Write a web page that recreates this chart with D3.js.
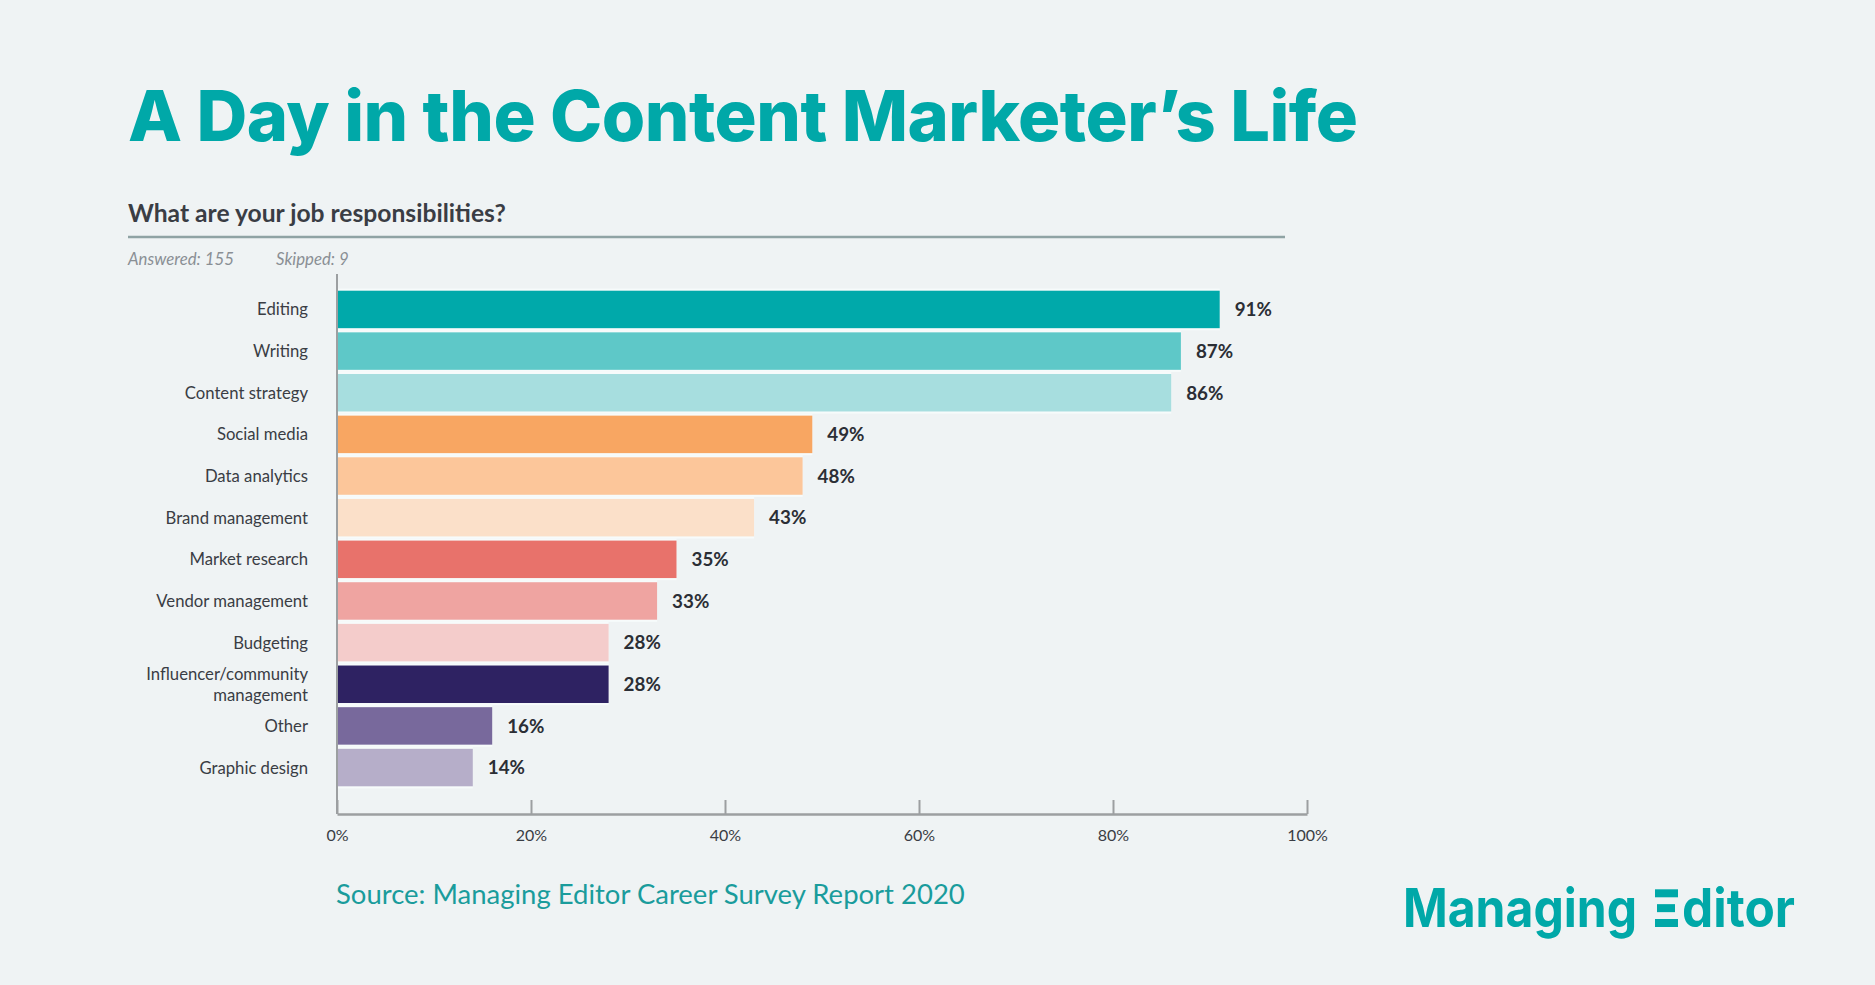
<!DOCTYPE html>
<html>
<head>
<meta charset="utf-8">
<script src="https://cdn.jsdelivr.net/npm/d3@7"></script>
<style>
  html, body { margin: 0; padding: 0; background: #eff3f4; }
  svg { display: block; }
</style>
</head>
<body>
<svg id="chart" width="1875" height="985"></svg>
<script>
// ---- data ----
const categories = ["Editing", "Writing", "Content strategy", "Social media", "Data analytics",
  "Brand management", "Market research", "Vendor management", "Budgeting",
  "Influencer/community management", "Other", "Graphic design"];
const values = [91, 87, 86, 49, 48, 43, 35, 33, 28, 28, 16, 14];
const barColors = ["#00a9aa", "#5ec8c8", "#a7dedf", "#f8a662", "#fcc69a", "#fbe0c9",
  "#e8726b", "#efa4a1", "#f4cccb", "#2e2262", "#78699c", "#b6aec9"];
const tickValues = [0, 20, 40, 60, 80, 100];
const tickLabels = ["0%", "20%", "40%", "60%", "80%", "100%"];
const titleText = "A Day in the Content Marketer\u2019s Life";
const questionText = "What are your job responsibilities?";
const answeredText = "Answered: 155";
const skippedText = "Skipped: 9";
const sourceText = "Source: Managing Editor Career Survey Report 2020";

const svg = d3.select("#chart");
const W = 1875, H = 985;
svg.append("rect").attr("width", W).attr("height", H).attr("fill", "#eff3f4");

const teal = "#00a8a8";
const dark = "#3a3d44";

function fitWidth(sel, target) {
  const len = sel.node().getComputedTextLength();
  const fs = parseFloat(sel.attr("font-size"));
  sel.attr("font-size", fs * target / len);
}

// title
const title = svg.append("text")
  .attr("x", 128).attr("y", 141)
  .attr("font-family", "Inter, 'Open Sans', sans-serif")
  .attr("font-weight", 800)
  .attr("font-size", 67)
  .attr("fill", teal)
  .attr("letter-spacing", "-0.5px")
  .text(titleText);
fitWidth(title, 1229);

// question
const q = svg.append("text")
  .attr("x", 128).attr("y", 222)
  .attr("font-family", "Lato, sans-serif")
  .attr("font-weight", 700)
  .attr("font-size", 24)
  .attr("fill", dark)
  .text(questionText);
fitWidth(q, 378);

svg.append("line")
  .attr("x1", 128).attr("x2", 1285)
  .attr("y1", 237).attr("y2", 237)
  .attr("stroke", "#8fa3a4").attr("stroke-width", 2.5);

svg.append("text")
  .attr("x", 128).attr("y", 265)
  .attr("font-family", "Lato, sans-serif")
  .attr("font-style", "italic")
  .attr("font-size", 16.8)
  .attr("fill", "#8a8f94")
  .text(answeredText);
svg.append("text")
  .attr("x", 276).attr("y", 265)
  .attr("font-family", "Lato, sans-serif")
  .attr("font-style", "italic")
  .attr("font-size", 16.8)
  .attr("fill", "#8a8f94")
  .text(skippedText);

// scales
const x = d3.scaleLinear().domain([0, 100]).range([337, 1307]);
const y = d3.scaleBand().domain(categories).range([290.7, 786.3]).paddingInner(0.1).paddingOuter(0);
const baseY = 814;
const gapPad = (y.step() - y.bandwidth()) / 2;

// light separators behind bars
svg.append("g").selectAll("rect")
  .data(categories)
  .join("rect")
  .attr("x", x(0))
  .attr("y", d => y(d) - gapPad)
  .attr("width", (d, i) => x(values[i]) - x(0))
  .attr("height", y.bandwidth() + 2 * gapPad)
  .attr("fill", "#f7fbfb");

// bars
svg.append("g").selectAll("rect")
  .data(categories)
  .join("rect")
  .attr("x", x(0))
  .attr("y", d => y(d))
  .attr("width", (d, i) => x(values[i]) - x(0))
  .attr("height", y.bandwidth())
  .attr("fill", (d, i) => barColors[i]);

// value labels
svg.append("g").selectAll("text")
  .data(categories)
  .join("text")
  .attr("x", (d, i) => x(values[i]) + 15)
  .attr("y", d => y(d) + y.bandwidth() / 2)
  .attr("dy", "0.36em")
  .attr("font-family", "Lato, sans-serif")
  .attr("font-weight", 700)
  .attr("font-size", 18.8)
  .attr("fill", "#2b2e35")
  .text((d, i) => values[i] + "%");

// category labels
const labelG = svg.append("g");
categories.forEach((c, i) => {
  const cy = y(c) + y.bandwidth() / 2;
  const t = labelG.append("text")
    .attr("x", 308)
    .attr("text-anchor", "end")
    .attr("font-family", "Lato, sans-serif")
    .attr("font-size", 16.7)
    .attr("fill", dark);
  if (c === "Influencer/community management") {
    const lines = ["Influencer/community", "management"];
    lines.forEach((ln, k) => {
      t.append("tspan").attr("x", 308)
        .attr("y", cy + (k - 0.5) * 21)
        .attr("dy", "0.36em").text(ln);
    });
  } else {
    t.attr("y", cy).attr("dy", "0.36em").text(c);
  }
});

// y axis line
svg.append("line")
  .attr("x1", x(0)).attr("x2", x(0))
  .attr("y1", 274).attr("y2", baseY)
  .attr("stroke", "#9c9fa1").attr("stroke-width", 2);

// x axis
const xAxis = d3.axisBottom(x)
  .tickValues(tickValues)
  .tickFormat((d, i) => tickLabels[i])
  .tickSize(-14)
  .tickSizeOuter(0)
  .tickPadding(16);
const gx = svg.append("g")
  .attr("transform", `translate(0,${baseY})`)
  .call(xAxis);
gx.select(".domain").attr("stroke", "#9c9fa1").attr("stroke-width", 2.5);
gx.selectAll(".tick line").attr("stroke", "#9c9fa1").attr("stroke-width", 2);
gx.selectAll(".tick text")
  .attr("font-family", "Lato, sans-serif")
  .attr("font-size", 16)
  .attr("fill", dark);

// source
const src = svg.append("text")
  .attr("x", 336).attr("y", 904)
  .attr("font-family", "Lato, sans-serif")
  .attr("font-size", 27.5)
  .attr("fill", "#1a9c9c")
  .text(sourceText);
fitWidth(src, 629);

// logo
const logo = svg.append("g");
const logoFont = 53;
const logoBase = 927;
logo.append("text")
  .attr("x", 1403).attr("y", logoBase)
  .attr("font-family", "Inter, sans-serif")
  .attr("font-weight", 700)
  .attr("font-size", logoFont)
  .attr("textLength", 234)
  .attr("lengthAdjust", "spacingAndGlyphs")
  .attr("fill", teal)
  .text("Managing");
const ex = 1655;
const capH = 37.7;
const barH = 8;
logo.append("rect").attr("x", ex).attr("y", logoBase - capH).attr("width", 23).attr("height", barH).attr("fill", teal);
logo.append("rect").attr("x", ex + 2).attr("y", logoBase - capH / 2 - barH / 2).attr("width", 18).attr("height", barH).attr("fill", teal);
logo.append("rect").attr("x", ex).attr("y", logoBase - barH).attr("width", 23).attr("height", barH).attr("fill", teal);
logo.append("text")
  .attr("x", 1682).attr("y", logoBase)
  .attr("font-family", "Inter, sans-serif")
  .attr("font-weight", 700)
  .attr("font-size", logoFont)
  .attr("textLength", 113)
  .attr("lengthAdjust", "spacingAndGlyphs")
  .attr("fill", teal)
  .text("ditor");
</script>
</body>
</html>
